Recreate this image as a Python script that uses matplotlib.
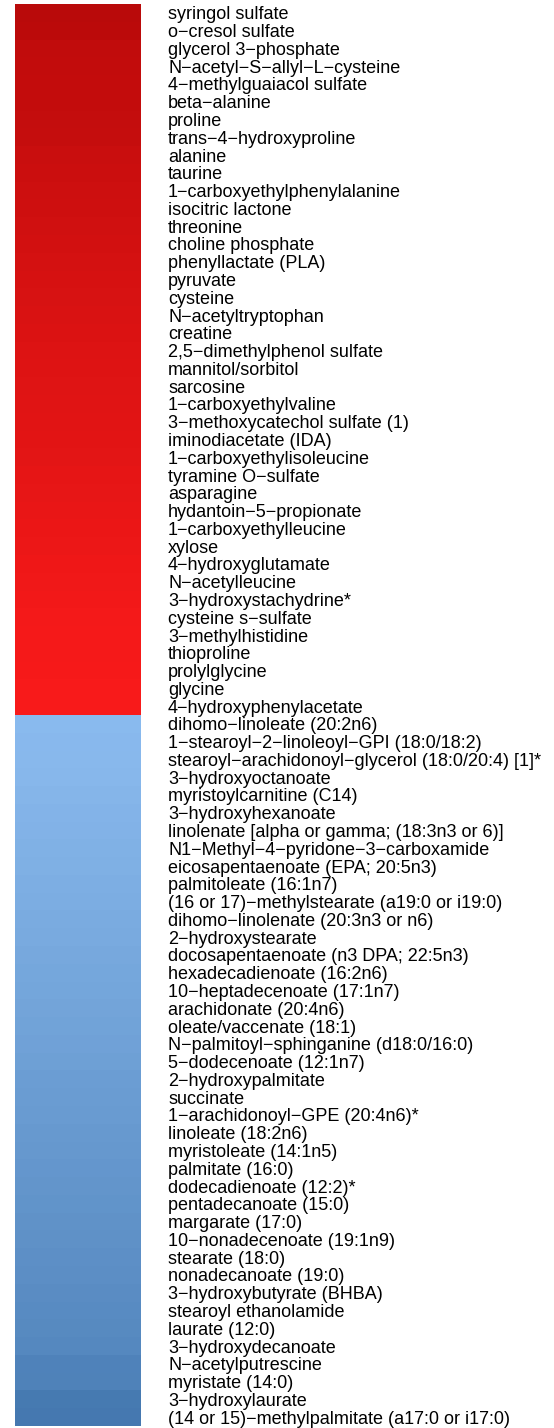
import matplotlib.pyplot as plt
import numpy as np
from matplotlib.colors import LinearSegmentedColormap, TwoSlopeNorm

metabolites = [
    "syringol sulfate", "o-cresol sulfate", "glycerol 3-phosphate",
    "N-acetyl-S-allyl-L-cysteine", "4-methylguaiacol sulfate", "beta-alanine",
    "proline", "trans-4-hydroxyproline", "alanine", "taurine",
    "1-carboxyethylphenylalanine", "isocitric lactone", "threonine",
    "choline phosphate", "phenyllactate (PLA)", "pyruvate", "cysteine",
    "N-acetyltryptophan", "creatine", "2,5-dimethylphenol sulfate",
    "mannitol/sorbitol", "sarcosine", "1-carboxyethylvaline",
    "3-methoxycatechol sulfate (1)", "iminodiacetate (IDA)",
    "1-carboxyethylisoleucine", "tyramine O-sulfate", "asparagine",
    "hydantoin-5-propionate", "1-carboxyethylleucine", "xylose",
    "4-hydroxyglutamate", "N-acetylleucine", "3-hydroxystachydrine*",
    "cysteine s-sulfate", "3-methylhistidine", "thioproline", "prolylglycine",
    "glycine", "4-hydroxyphenylacetate",
    "dihomo-linoleate (20:2n6)", "1-stearoyl-2-linoleoyl-GPI (18:0/18:2)",
    "stearoyl-arachidonoyl-glycerol (18:0/20:4) [1]*", "3-hydroxyoctanoate",
    "myristoylcarnitine (C14)", "3-hydroxyhexanoate",
    "linolenate [alpha or gamma; (18:3n3 or 6)]",
    "N1-Methyl-4-pyridone-3-carboxamide", "eicosapentaenoate (EPA; 20:5n3)",
    "palmitoleate (16:1n7)", "(16 or 17)-methylstearate (a19:0 or i19:0)",
    "dihomo-linolenate (20:3n3 or n6)", "2-hydroxystearate",
    "docosapentaenoate (n3 DPA; 22:5n3)", "hexadecadienoate (16:2n6)",
    "10-heptadecenoate (17:1n7)", "arachidonate (20:4n6)",
    "oleate/vaccenate (18:1)", "N-palmitoyl-sphinganine (d18:0/16:0)",
    "5-dodecenoate (12:1n7)", "2-hydroxypalmitate", "succinate",
    "1-arachidonoyl-GPE (20:4n6)*", "linoleate (18:2n6)",
    "myristoleate (14:1n5)", "palmitate (16:0)", "dodecadienoate (12:2)*",
    "pentadecanoate (15:0)", "margarate (17:0)", "10-nonadecenoate (19:1n9)",
    "stearate (18:0)", "nonadecanoate (19:0)", "3-hydroxybutyrate (BHBA)",
    "stearoyl ethanolamide", "laurate (12:0)", "3-hydroxydecanoate",
    "N-acetylputrescine", "myristate (14:0)", "3-hydroxylaurate",
    "(14 or 15)-methylpalmitate (a17:0 or i17:0)",
]

# estimated fold-change values (log scale), read from the colour shades
up_values = [1.95, 1.9, 1.72, 1.7, 1.68, 1.66, 1.64, 1.62, 1.5, 1.45,
             1.4, 1.35, 1.3, 1.25, 1.2, 1.15, 1.1, 1.05, 1.0, 0.95,
             0.9, 0.88, 0.85, 0.82, 0.8, 0.75, 0.7, 0.65, 0.6, 0.55,
             0.5, 0.45, 0.4, 0.35, 0.3, 0.28, 0.25, 0.22, 0.2, 0.18]
down_values = [-0.05, -0.08, -0.1, -0.14, -0.18, -0.22, -0.26, -0.3, -0.34, -0.38,
               -0.42, -0.46, -0.5, -0.54, -0.58, -0.62, -0.66, -0.7, -0.74, -0.78,
               -0.85, -0.88, -0.92, -0.96, -1.0, -1.04, -1.08, -1.12, -1.16, -1.2,
               -1.24, -1.28, -1.32, -1.36, -1.4, -1.44, -1.6, -1.62, -1.85, -1.88]
values = np.array(up_values + down_values)

# split exactly at zero: blue side / red side
cmap = LinearSegmentedColormap.from_list(
    "fc", [(0.0, "#4175ad"), (0.4999, "#8cbcf0"), (0.5, "#ff1c1c"), (1.0, "#b80a0a")])
norm = TwoSlopeNorm(vmin=-2, vcenter=0, vmax=2)

fig = plt.figure(figsize=(5.54, 14.28), dpi=100)
ax = fig.add_axes([15 / 554, 2 / 1428, 126 / 554, 1422 / 1428])
ax.imshow(values.reshape(-1, 1), aspect="auto", cmap=cmap, norm=norm,
          interpolation="nearest")
ax.set_xticks([])
ax.yaxis.tick_right()
ax.set_yticks(np.arange(len(metabolites)))
ax.set_yticklabels([m.replace("-", "\u2212") for m in metabolites],
                   fontsize=13, family="Liberation Sans")
ax.tick_params(axis="y", length=0, pad=19.5)
for s in ax.spines.values():
    s.set_visible(False)

fig.savefig("out.png", dpi=100)
